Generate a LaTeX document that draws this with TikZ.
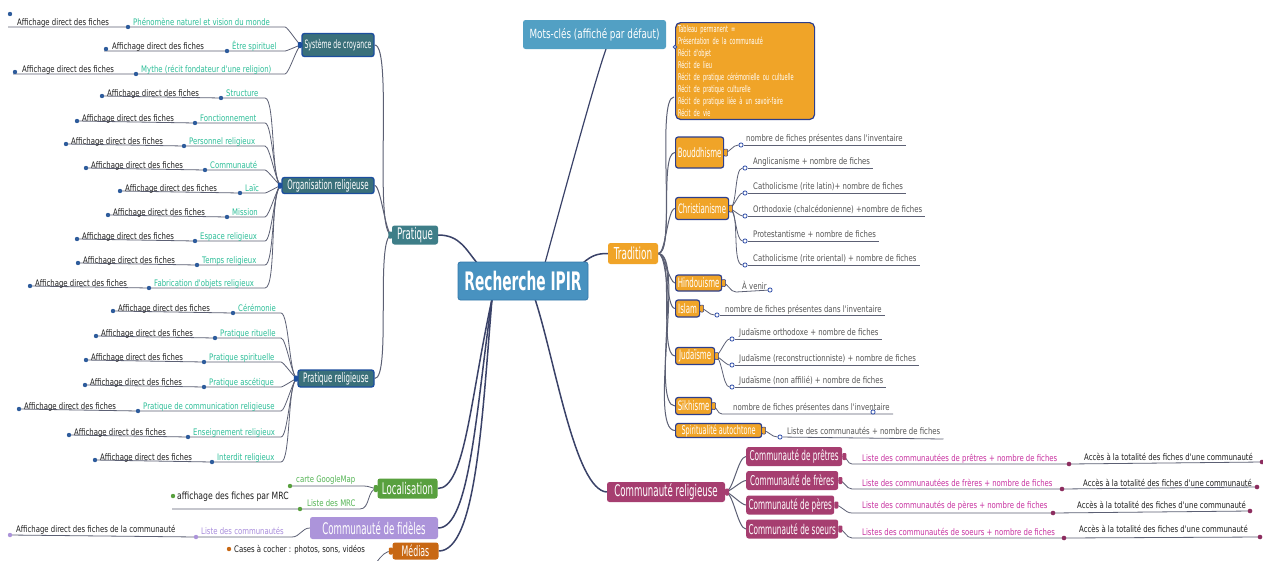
\documentclass[tikz,border=0pt]{standalone}
\usepackage{fontspec}
\setmainfont{DejaVu Sans}
\newfontfamily\leaffam[FakeStretch=0.77]{DejaVu Sans}
\newfontfamily\boxfam[FakeStretch=0.54]{DejaVu Sans}
\newfontfamily\motsfam[FakeStretch=0.7]{DejaVu Sans}
\usetikzlibrary{calc}
\pgfdeclarelayer{bg}
\pgfsetlayers{bg,main}
\definecolor{rootc}{RGB}{72,146,192}
\definecolor{rootb}{RGB}{52,120,170}
\definecolor{motsc}{RGB}{82,160,196}
\definecolor{pratc}{RGB}{62,126,136}
\definecolor{subc}{RGB}{58,112,122}
\definecolor{subb}{RGB}{28,78,158}
\definecolor{tradc}{RGB}{240,164,40}
\definecolor{tradb}{RGB}{44,62,140}
\definecolor{crc}{RGB}{166,62,112}
\definecolor{crd}{RGB}{140,45,95}
\definecolor{locc}{RGB}{88,160,62}
\definecolor{fidc}{RGB}{172,148,218}
\definecolor{medc}{RGB}{200,104,20}
\definecolor{tealt}{RGB}{44,190,152}
\definecolor{magt}{RGB}{200,48,160}
\definecolor{lavt}{RGB}{168,140,220}
\definecolor{greent}{RGB}{84,180,84}
\definecolor{linec}{RGB}{92,96,116}
\definecolor{mainl}{RGB}{58,66,104}
\definecolor{dotb}{RGB}{46,92,156}
\definecolor{odotc}{RGB}{50,80,170}
\definecolor{grayt}{RGB}{85,85,85}
\definecolor{blackt}{RGB}{30,30,30}
\tikzset{
  box/.style={rounded corners=2.5pt, text=white, inner sep=1pt, align=center},
  bf/.style={font=\boxfam\fontsize{#1}{#1}\selectfont},
  leaf/.style={font=\leaffam\fontsize{9}{10}\selectfont, inner sep=0pt, anchor=base west},
  ln/.style={draw=linec, line width=0.8pt},
  mln/.style={draw=mainl, line width=1.5pt},
  bdot/.style={circle, fill=dotb, inner sep=0pt, minimum size=4.4pt},
  odot/.style={circle, draw=odotc, fill=white, line width=0.8pt, inner sep=0pt, minimum size=4.2pt},
  sub/.style={box, fill=subc, draw=subb, line width=1.4pt, bf=13},
  tch/.style={box, fill=tradc, draw=tradb, line width=1.2pt, anchor=west, bf=13},
  crch/.style={box, fill=crc, anchor=west, bf=13.5, minimum height=19pt},
  knob/.style={rectangle, rounded corners=1pt, inner sep=0pt, minimum width=4pt, minimum height=7pt},
}
\begin{document}
\begin{tikzpicture}[x=1pt,y=-1pt]
\useasboundingbox (0,0) rectangle (1263,560);
\begin{pgfonlayer}{bg}
\fill[white] (0,0) rectangle (1263,560);
\end{pgfonlayer}

% ---------- main boxes ----------
\node[box, fill=rootc, draw=rootb, line width=0.8pt, minimum width=130pt, minimum height=38pt, font=\boxfam\bfseries\fontsize{25.5}{26}\selectfont] (root) at (523,281) {Recherche IPIR};
\node[box, fill=motsc, minimum width=143pt, minimum height=29pt, font=\motsfam\fontsize{12.6}{13}\selectfont] (mots) at (594.5,34.5) {Mots-clés (affiché par défaut)};
\node[box, fill=tradc, draw=tradb, line width=1.2pt, rounded corners=5pt, anchor=north west, align=left, text width=134pt, inner sep=2.5pt, font=\boxfam\fontsize{9.3}{12.1}\selectfont] (kw) at (675,22) {Tableau permanent =\\Présentation de la communauté\\Récit d'objet\\Récit de lieu\\Récit de pratique cérémonielle ou cultuelle\\Récit de pratique culturelle\\Récit de pratique liée à un savoir-faire\\Récit de vie};
\node[odot, minimum size=3.4pt] (kwk) at (675,47) {};
\node[box, fill=tradc, minimum width=50pt, minimum height=21pt, bf=16.5] (trad) at (633,253.5) {Tradition};
\node[box, fill=pratc, minimum width=46pt, minimum height=19pt, bf=16] (prat) at (415,235) {Pratique};
\node[sub, minimum width=72pt, minimum height=23pt, bf=11.5] (sys) at (338,45) {Système de croyance};
\node[sub, minimum width=92pt, minimum height=16pt] (org) at (328,185.5) {Organisation religieuse};
\node[sub, minimum width=76pt, minimum height=17pt] (prel) at (336,378.5) {Pratique religieuse};
\node[box, fill=crc, minimum width=118pt, minimum height=20pt, bf=16] (cr) at (666,492) {Communauté religieuse};
\node[crch, minimum width=96pt] (cp) at (746,456.5) {Communauté de prêtres};
\node[crch, minimum width=92pt] (cf) at (746,480.5) {Communauté de frères};
\node[crch, minimum width=88pt] (cpe) at (746,505) {Communauté de pères};
\node[crch, minimum width=92pt] (cs) at (746,529) {Communauté de soeurs};
\node[box, fill=locc, minimum width=60pt, minimum height=20pt, bf=16] (loc) at (407.5,488.5) {Localisation};
\node[box, fill=fidc, minimum width=128pt, minimum height=22pt, bf=16] (fid) at (374,528) {Communauté de fidèles};
\node[box, fill=medc, minimum width=46pt, minimum height=17pt, inner sep=0.5pt, bf=14.5] (med) at (415.5,551) {Médias};

% Tradition children
\node[tch, minimum width=48pt, minimum height=31pt] (bou) at (675,152.5) {Bouddhisme};
\node[tch, minimum width=53pt, minimum height=22pt] (chr) at (675,208.5) {Christianisme};
\node[tch, minimum width=46pt, minimum height=16pt] (hin) at (675,283) {Hindouisme};
\node[tch, minimum width=24pt, minimum height=17pt] (isl) at (675,308.5) {Islam};
\node[tch, minimum width=39pt, minimum height=17pt] (jud) at (675,356) {Judaïsme};
\node[tch, minimum width=36pt, minimum height=17pt] (sik) at (675,406) {Sikhisme};
\node[tch, minimum width=86pt, minimum height=14pt, bf=12] (spi) at (675,430.5) {Spiritualité autochtone};

% knobs
\foreach \c in {bou,chr,hin,isl,jud,sik,spi}
  \node[knob, fill=tradc, draw=tradb, line width=0.5pt] (k\c) at ([xshift=1.5pt]\c.east) {};
\foreach \c in {cr,cp,cf,cpe,cs}
  \node[knob, fill=crc] (k\c) at ([xshift=2pt]\c.east) {};
\node[knob, fill=pratc] (kprat) at ([xshift=-1.5pt]prat.west) {};
\node[knob, fill=subb, minimum height=6pt] (ksys) at ([xshift=-1.5pt]sys.west) {};
\node[knob, fill=subb, minimum height=6pt] (korg) at ([xshift=-1.5pt]org.west) {};
\node[knob, fill=subb, minimum height=6pt] (kprel) at ([xshift=-1.5pt]prel.west) {};
\node[knob, fill=locc] (kloc) at ([xshift=-1.5pt]loc.west) {};
\node[knob, fill=medc] (kmed) at ([xshift=-1.5pt]med.west) {};

% ---------- main connectors ----------
\begin{pgfonlayer}{bg}
\coordinate (rpr) at (478,264);
\draw[mln] (prat.east) .. controls +(22,0) and +(-12,-14) .. (rpr);
\coordinate (rm) at (545,263);
\coordinate (mb) at (606,49);
\draw[mln, line width=1.2pt] (rm) .. controls (565,190) and (595,80) .. (mb);
\coordinate (rt) at (583,263);
\draw[mln] (rt) .. controls (592,255) and (598,253.5) .. (trad.west);
\coordinate (rc) at (535,299);
\draw[mln] (rc) .. controls (555,360) and (575,490) .. (cr.west);
\coordinate (rl) at (492,299);
\draw[mln] (rl) .. controls (470,400) and (465,488.5) .. (loc.east);
\draw[mln] (rl) .. controls (476,410) and (470,528) .. (fid.east);
\draw[mln] (rl) .. controls (482,420) and (476,551) .. (med.east);
% Pratique to sub boxes
\draw[ln, line width=1pt] (prat.west) to[out=180,in=0,looseness=0.25] (sys.east);
\draw[ln, line width=1pt] (prat.west) to[out=180,in=0,looseness=0.3] (org.east);
\draw[ln, line width=1pt] (prat.west) to[out=180,in=0,looseness=0.3] (prel.east);
% Tradition to children
\coordinate (kwin) at (674,97);
\draw[ln, line width=1pt] (trad.east) to[out=0,in=180,looseness=0.3] (kwin);
\foreach \c in {bou,chr,hin,isl,jud,sik,spi}
  \draw[ln, line width=1pt] (trad.east) to[out=0,in=180,looseness=0.4] (\c.west);
% Communaute religieuse to children
\foreach \c in {cp,cf,cpe,cs}
  \draw[ln, line width=1pt] (cr.east) to[out=0,in=180,looseness=0.5] (\c.west);
\end{pgfonlayer}

% ---------- Systeme de croyance leaves ----------
\foreach \nn/\lab/\yy/\xa/\dx/\dy/\tx in {1/Phénomène naturel et vision du monde/27/128/10/14/17, 2/Être spirituel/51/227/106/49/112, 3/Mythe (récit fondateur d'une religion)/74/136/15/72/22}{
  \coordinate (se\nn) at (285,\yy);
  \coordinate (sc\nn) at (\xa,\yy);
  \coordinate (ss\nn) at (\dx-2,\yy);
  \begin{pgfonlayer}{bg}
    \draw[ln] (ss\nn) -- (sc\nn) -- (se\nn) to[out=0,in=180,looseness=0.3] (sys.west);
  \end{pgfonlayer}
  \node[bdot] (scd\nn) at (sc\nn) {};
  \node[bdot] (sdd\nn) at (\dx,\dy) {};
  \node[leaf, text=tealt] (sl\nn) at (\xa+5,\yy-2) {\lab};
  \node[leaf, text=blackt] (sa\nn) at (\tx,\yy-2) {Affichage direct des fiches};
}

% ---------- Organisation religieuse leaves ----------
\foreach \nn/\lab/\yy/\xa/\xb in {1/Structure/98/221/102, 2/Fonctionnement/123/195/77, 3/Personnel religieux/146/184/66, 4/Communauté/170/205/86, 5/Laïc/193/240/120, 6/Mission/217/227/108, 7/Espace religieux/241/195/77, 8/Temps religieux/265/197/78, 9/Fabrication d'objets religieux/288/149/30}{
  \coordinate (oe\nn) at (265,\yy);
  \coordinate (oc\nn) at (\xa,\yy);
  \coordinate (od\nn) at (\xb,\yy-2);
  \begin{pgfonlayer}{bg}
    \draw[ln] (od\nn) -- (oc\nn) -- (oe\nn) to[out=0,in=180,looseness=0.3] (org.west);
  \end{pgfonlayer}
  \node[bdot] (ocd\nn) at (oc\nn) {};
  \node[bdot] (odd\nn) at (od\nn) {};
  \node[leaf, text=tealt] (ol\nn) at (\xa+5,\yy-2) {\lab};
  \node[leaf, text=blackt] (oa\nn) at (\xb+5,\yy-2) {Affichage direct des fiches};
}

% ---------- Pratique religieuse leaves ----------
\foreach \nn/\lab/\yy/\xa/\xb in {1/Cérémonie/313/233/113, 2/Pratique rituelle/338/215/96, 3/Pratique spirituelle/362/204/86, 4/Pratique ascétique/387/204/85, 5/Pratique de communication religieuse/411/138/19, 6/Enseignement religieux/437/188/69, 7/Interdit religieux/462/212/95}{
  \coordinate (pe\nn) at (281,\yy);
  \coordinate (pc\nn) at (\xa,\yy);
  \coordinate (pd\nn) at (\xb,\yy-2);
  \begin{pgfonlayer}{bg}
    \draw[ln] (pd\nn) -- (pc\nn) -- (pe\nn) to[out=0,in=180,looseness=0.3] (prel.west);
  \end{pgfonlayer}
  \node[bdot] (pcd\nn) at (pc\nn) {};
  \node[bdot] (pdd\nn) at (pd\nn) {};
  \node[leaf, text=tealt] (pl\nn) at (\xa+5,\yy-2) {\lab};
  \node[leaf, text=blackt] (pa\nn) at (\xb+5,\yy-2) {Affichage direct des fiches};
}

% ---------- Tradition leaves ----------
\node[odot] (bod) at (741,145) {};
\node[leaf, text=grayt] (bot) at (746,141.5) {nombre de fiches présentes dans l'inventaire};
\begin{pgfonlayer}{bg}
  \draw[ln] (bou.east) to[out=0,in=180] (bod);
  \draw[ln] (bod) -- ($(bot.east|-bod)+(3,0)$);
\end{pgfonlayer}

\foreach \nn/\lab/\yy in {1/Anglicanisme + nombre de fiches/168, 2/Catholicisme (rite latin)+ nombre de fiches/193, 3/Orthodoxie (chalcédonienne) +nombre de fiches/216, 4/Protestantisme + nombre de fiches/241, 5/Catholicisme (rite oriental) + nombre de fiches/265}{
  \node[odot] (chd\nn) at (745,\yy) {};
  \node[leaf, text=grayt] (cht\nn) at (753,\yy-4) {\lab};
  \begin{pgfonlayer}{bg}
    \draw[ln] (chr.east) to[out=0,in=180,looseness=0.5] (chd\nn);
    \draw[ln] (chd\nn) -- ($(cht\nn.east|-chd\nn)+(3,0)$);
  \end{pgfonlayer}
}

\coordinate (hi0) at (736,292);
\node[odot] (hid) at (770,290) {};
\node[leaf, text=grayt] (hit) at (742,289) {À venir};
\begin{pgfonlayer}{bg}
  \draw[ln] (hin.east) to[out=0,in=180] (hi0) -- (hid);
\end{pgfonlayer}

\node[odot] (isd) at (717,315) {};
\node[leaf, text=grayt] (ist) at (725,312.5) {nombre de fiches présentes dans l'inventaire};
\begin{pgfonlayer}{bg}
  \draw[ln] (isl.east) to[out=0,in=180] (isd);
  \draw[ln] (isd) -- ($(ist.east|-isd)+(3,0)$);
\end{pgfonlayer}

\foreach \nn/\lab/\yy in {1/Judaïsme orthodoxe + nombre de fiches/339, 2/Judaïsme (reconstructionniste) + nombre de fiches/365, 3/Judaïsme (non affilié) + nombre de fiches/387}{
  \node[odot] (jdd\nn) at (732,\yy) {};
  \node[leaf, text=grayt] (jdt\nn) at (739,\yy-4) {\lab};
  \begin{pgfonlayer}{bg}
    \draw[ln] (jud.east) to[out=0,in=180,looseness=0.5] (jdd\nn);
    \draw[ln] (jdd\nn) -- ($(jdt\nn.east|-jdd\nn)+(3,0)$);
  \end{pgfonlayer}
}

\coordinate (sk0) at (722,414);
\coordinate (sk1) at (893,414);
\node[odot] (skd) at (873,412) {};
\node[leaf, text=grayt] (skt) at (733,410) {nombre de fiches présentes dans l'inventaire};
\begin{pgfonlayer}{bg}
  \draw[ln] (sik.east) to[out=0,in=180] (sk0) -- (sk1);
\end{pgfonlayer}

\node[odot] (spd) at (780,437) {};
\node[leaf, text=grayt] (spt) at (787,434.5) {Liste des communautés + nombre de fiches};
\begin{pgfonlayer}{bg}
  \draw[ln] (spi.east) to[out=0,in=180] (spd);
  \draw[ln] (spd) -- ($(spt.east|-spd)+(3,0)+(0,2)$);
\end{pgfonlayer}

% ---------- Communaute religieuse leaves ----------
\foreach \c/\lab/\yy/\xa/\ty/\ax/\ay/\ex/\ey in {cp/Liste des communautées de prêtres + nombre de fiches/464/1069/461/1084/460/1262/462, cf/Liste des communautées de frères + nombre de fiches/489/1062/486/1083/486/1257/487, cpe/Liste des communautés de pères + nombre de fiches/513/1053/508/1077/508/1250/511, cs/Listes des communautés de soeurs + nombre de fiches/538/1064/535/1079/532/1260/537}{
  \coordinate (\c s) at (852,\yy);
  \coordinate (\c a) at (\xa,\yy);
  \coordinate (\c b) at (\ex,\ey);
  \begin{pgfonlayer}{bg}
    \draw[ln] (\c.east) to[out=0,in=180] (\c s) -- (\c a) -- (\c b);
  \end{pgfonlayer}
  \node[circle, fill=crd, inner sep=0pt, minimum size=4.6pt] (\c ad) at (\c a) {};
  \node[circle, fill=crd, inner sep=0pt, minimum size=4.6pt] (\c bd) at (\c b) {};
  \node[leaf, text=magt] (\c lt) at (862,\ty) {\lab};
  \node[leaf, text=blackt] (\c at) at (\ax,\ay) {Accès à la totalité des fiches d'une communauté};
}

% ---------- Localisation leaves ----------
\coordinate (gm0) at (364,486);
\coordinate (mr0) at (360,509);
\coordinate (af0) at (172,509);
\begin{pgfonlayer}{bg}
  \draw[ln] (loc.west) to[out=180,in=0] (gm0) -- (290,486);
  \draw[ln] (loc.west) to[out=180,in=0] (mr0) -- (300,509) -- (af0);
\end{pgfonlayer}
\node[circle, fill=locc, inner sep=0pt, minimum size=4.4pt] (gmd) at (290,486) {};
\node[circle, fill=locc, inner sep=0pt, minimum size=4.4pt] (mrd) at (300,509) {};
\node[circle, fill=locc, inner sep=0pt, minimum size=4.4pt] (afd) at (173,496) {};
\node[leaf, text=greent] (gmt) at (296,482.5) {carte GoogleMap};
\node[leaf, text=greent] (mrt) at (307,506) {Liste des MRC};
\node[leaf, text=blackt, font=\leaffam\fontsize{10}{11}\selectfont] (aft) at (177,499.5) {affichage des fiches par MRC};

% ---------- Communaute de fideles leaves ----------
\coordinate (lc0) at (292,537);
\coordinate (lcd) at (196,537);
\coordinate (fa0) at (10,535);
\begin{pgfonlayer}{bg}
  \draw[ln] (fid.west) to[out=180,in=0] (lc0) -- (lcd) -- (fa0);
\end{pgfonlayer}
\node[circle, fill=fidc, inner sep=0pt, minimum size=4.4pt] (lcdd) at (lcd) {};
\node[circle, fill=fidc, inner sep=0pt, minimum size=4.4pt] (fad) at (fa0) {};
\node[leaf, text=lavt] (lct) at (201,534) {Liste des communautés};
\node[leaf, text=blackt] (fat) at (16,532) {Affichage direct des fiches de la communauté};

% ---------- Medias leaves ----------
\coordinate (medo) at (362,572);
\begin{pgfonlayer}{bg}
  \draw[ln] (med.west) to[out=180,in=0] (medo);
\end{pgfonlayer}
\node[circle, fill=medc, inner sep=0pt, minimum size=4.4pt] (mdd) at (229,549) {};
\node[leaf, text=blackt] (mdt) at (234,552) {Cases à cocher : photos, sons, vidéos};
\end{tikzpicture}
\end{document}
